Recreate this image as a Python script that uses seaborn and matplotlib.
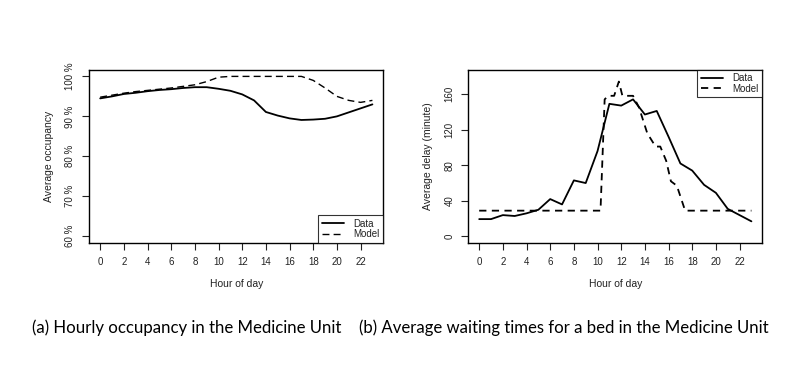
import matplotlib
matplotlib.use("Agg")
import matplotlib.pyplot as plt
import seaborn as sns
import pandas as pd
from matplotlib.ticker import FuncFormatter

# ---------------- data ----------------
hours = list(range(24))
occ_data = [94.5, 95.0, 95.6, 95.9, 96.3, 96.6, 96.8, 97.1, 97.3, 97.3, 96.9, 96.4,
            95.5, 94.0, 91.1, 90.2, 89.5, 89.1, 89.2, 89.4, 90.0, 91.0, 92.0, 93.0]
occ_model = [94.8, 95.3, 95.8, 96.2, 96.5, 96.8, 97.1, 97.5, 97.9, 98.7, 99.8, 100.0,
             100.0, 100.0, 100.0, 100.0, 100.0, 100.0, 99.0, 97.1, 95.0, 94.0, 93.5, 94.0]

delay_data = [19.5, 19.5, 24, 23, 26, 30, 42, 36, 63, 60, 96, 149,
              147, 154, 137, 141, 112, 82, 74, 58, 49, 31, 24, 17]
delay_model_hours = [0, 10.25, 10.6, 10.9, 11.4, 11.8, 12.1, 13.0, 13.5, 14.2, 14.9,
                     15.3, 15.8, 16.2, 16.7, 17.4, 23]
delay_model = [29, 29, 154, 158, 158, 174, 158, 158, 145, 116, 101,
               101, 85, 62, 57, 29, 29]

occ_ticks = [60, 70, 80, 90, 100]
delay_ticks = [0, 40, 80, 120, 160]
hour_ticks = list(range(0, 23, 2))

captions = ["(a) Hourly occupancy in the Medicine Unit",
            "(b) Average waiting times for a bed in the Medicine Unit"]

# ---------------- style ----------------
sns.set_style("ticks")
plt.rcParams['font.family'] = ['Liberation Sans', 'DejaVu Sans']
plt.rcParams['text.color'] = '#222222'
plt.rcParams['axes.labelcolor'] = '#222222'
plt.rcParams['xtick.color'] = '#222222'
plt.rcParams['ytick.color'] = '#222222'

W, H = 802, 383
fig = plt.figure(figsize=(W / 100, H / 100), dpi=100)
fig.patch.set_facecolor('white')


def box(x0, y0, x1, y1):
    return [x0 / W, 1 - y1 / H, (x1 - x0) / W, (y1 - y0) / H]


ax1 = fig.add_axes(box(89.3, 70, 383.3, 242.7))
ax2 = fig.add_axes(box(468.3, 70, 762.3, 242.7))

df1 = pd.DataFrame({"hour": hours, "Data": occ_data, "Model": occ_model})
sns.lineplot(data=df1, x="hour", y="Data", ax=ax1, color="black", lw=1.3, label="Data")
sns.lineplot(data=df1, x="hour", y="Model", ax=ax1, color="black", lw=1.0,
             linestyle=(0, (5, 3)), label="Model")

df2 = pd.DataFrame({"hour": hours, "Data": delay_data})
df2m = pd.DataFrame({"hour": delay_model_hours, "Model": delay_model})
sns.lineplot(data=df2, x="hour", y="Data", ax=ax2, color="black", lw=1.3, label="Data")
sns.lineplot(data=df2m, x="hour", y="Model", ax=ax2, color="black", lw=1.3,
             linestyle=(0, (4, 3)), label="Model")

for ax in (ax1, ax2):
    ax.set_xlim(-0.92, 23.92)
    ax.set_xticks(hour_ticks)
    ax.set_xlabel("Hour of day", fontsize=7.5, labelpad=9)
    for s in ax.spines.values():
        s.set_visible(True)
        s.set_color("black")
        s.set_linewidth(1.0)
    ax.tick_params(axis='both', length=5, width=0.8, labelsize=7, pad=5)

ax1.set_ylim(58.4, 101.6)
ax1.set_yticks(occ_ticks)
ax1.yaxis.set_major_formatter(FuncFormatter(lambda v, p: f"{int(v)} %"))
ax1.set_ylabel("Average occupancy", fontsize=7.5, labelpad=8)

ax2.set_ylim(-7, 187)
ax2.set_yticks(delay_ticks)
ax2.set_ylabel("Average delay (minute)", fontsize=7.5, labelpad=8)

for ax in (ax1, ax2):
    for lab in ax.get_yticklabels():
        lab.set_rotation(90)
        lab.set_va('center')

leg_kw = dict(fontsize=7, frameon=True, fancybox=False, borderaxespad=0,
              handlelength=2.3, labelspacing=0.05, borderpad=0.35, handletextpad=1.0)
l1 = ax1.legend(loc="lower right", **leg_kw)
l2 = ax2.legend(loc="upper right", **leg_kw)
for l in (l1, l2):
    l.get_frame().set_edgecolor("black")
    l.get_frame().set_linewidth(0.8)

fig.text(187 / W, 1 - 328 / H, captions[0], fontsize=12.1, family=['Lato', 'DejaVu Sans'],
         ha='center', va='center', color='black')
fig.text(564 / W, 1 - 328 / H, captions[1], fontsize=12.1, family=['Lato', 'DejaVu Sans'],
         ha='center', va='center', color='black')

fig.savefig("out.png", dpi=100, facecolor='white')
